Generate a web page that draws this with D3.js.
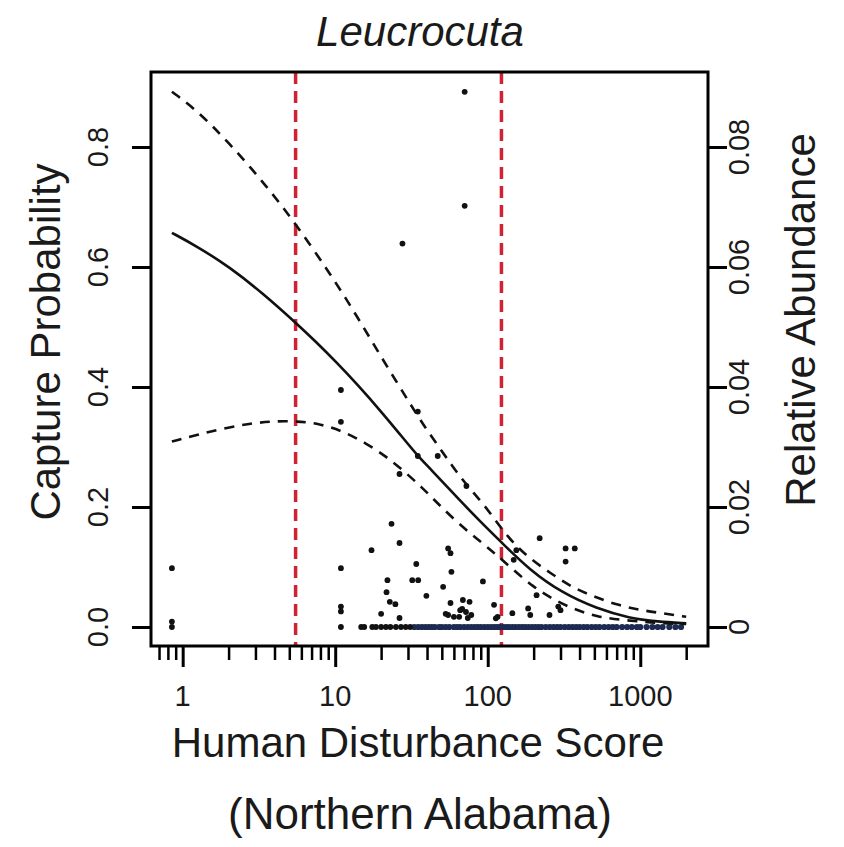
<!DOCTYPE html>
<html>
<head>
<meta charset="utf-8">
<script src="https://cdn.jsdelivr.net/npm/d3@7"></script>
<style>
  body { margin: 0; background: #fff; }
  svg { display: block; }
  text { font-family: "Liberation Sans", Arial, sans-serif; fill: #1a1a1a; }
</style>
</head>
<body>
<svg width="844" height="847"></svg>
<script>
// fitted curve (capture probability)
var fitX   = [0.85, 1.23, 2.03, 3.36, 5.57, 7.5, 10.2, 14, 20.5, 27, 34.8, 41.6, 63.6, 90, 122, 188, 311, 515, 852, 1300, 2000];
var fitY   = [0.657, 0.635, 0.600, 0.556, 0.506, 0.475, 0.441, 0.404, 0.356, 0.319, 0.285, 0.265, 0.2145, 0.175, 0.142, 0.095, 0.056, 0.031, 0.0145, 0.009, 0.006];
var upperX = [0.85, 1.23, 2.03, 3.36, 5.3, 9.2, 13, 19.5, 24.5, 30.8, 37.6, 47, 59, 72.5, 93, 116, 146, 193, 261, 352, 490, 700, 1000, 1400, 2000];
var upperY = [0.892, 0.862, 0.806, 0.742, 0.678, 0.59, 0.53, 0.455, 0.414, 0.373, 0.338, 0.303, 0.267, 0.237, 0.206, 0.173, 0.14, 0.112, 0.089, 0.067, 0.051, 0.037, 0.028, 0.023, 0.017];
var lowerX = [0.85, 1.23, 1.84, 2.75, 3.9, 5.57, 7.9, 11.3, 16, 21.6, 28.5, 37.6, 47, 62.6, 84, 111, 143, 198, 272, 380, 527, 730, 1030, 1400, 2000];
var lowerY = [0.309, 0.32, 0.331, 0.339, 0.343, 0.343, 0.339, 0.326, 0.306, 0.284, 0.259, 0.231, 0.206, 0.175, 0.148, 0.123, 0.098, 0.067, 0.045, 0.028, 0.017, 0.012, 0.009, 0.006, 0.005];

// threshold lines
var thresholds = [5.5, 123];

// observed relative abundance (right axis)
var obsX = [0.85, 0.85, 10.9, 10.9, 10.9, 10.9, 10.9, 17.3, 20, 22, 21.7, 22.8, 24.8, 23.4, 26.4, 26.4, 26.4,
            34, 32, 35, 39.6, 34.8, 34.8, 47, 51, 57.8, 55, 57, 57, 53, 55, 72.5, 93, 68.7, 76,
            68, 72, 65, 74, 60, 78, 66, 110, 113, 116, 219, 324, 372, 324, 154, 148, 209, 184, 190,
            290, 300, 145, 254, 27.6, 70.6, 70.6];
var obsY = [0.0098, 0.0009, 0.0395, 0.0342, 0.0098, 0.0034, 0.0026, 0.0128, 0.0022, 0.0078, 0.0058, 0.0042, 0.0038, 0.0172, 0.0140, 0.0255, 0.0015,
            0.0105, 0.0078, 0.0078, 0.0052, 0.0285, 0.0359, 0.0285, 0.0067, 0.0092, 0.0131, 0.0123, 0.0040, 0.0022, 0.0020, 0.0235, 0.0076, 0.0045, 0.0042,
            0.0030, 0.0025, 0.0017, 0.0015, 0.0017, 0.0020, 0.0028, 0.0037, 0.00145, 0.0017, 0.0148, 0.0131, 0.0131, 0.0109, 0.0128, 0.0112, 0.0053, 0.0031, 0.0020,
            0.0034, 0.0028, 0.0023, 0.0020, 0.0639, 0.0892, 0.0702];

// sites with zero abundance
var zeroBlackX = [0.85, 10.9, 14.8, 15.5, 17.5, 18.5, 20, 21.5, 23, 25, 27, 29, 31];
var zeroNavyX = [33, 35, 37, 39, 41, 43, 45, 48, 50, 53, 56, 60, 63, 66, 70, 74, 78, 82, 86, 90, 95, 100, 105,
                 110, 115, 120, 126, 132, 138, 145, 152, 160, 168, 176, 185, 195, 205, 215, 225, 240, 255,
                 270, 285, 300, 320, 340, 360, 380, 400, 425, 450, 480, 510, 540, 580, 620, 660, 700, 760,
                 820, 880, 950, 1000, 1100, 1200, 1300, 1400, 1550, 1700, 1850];

// axis ticks
var xMajor = [1, 10, 100, 1000];
var xMinor = [0.7, 0.8, 0.9, 2, 3, 4, 5, 6, 7, 8, 9, 20, 30, 40, 50, 60, 70, 80, 90,
              200, 300, 400, 500, 600, 700, 800, 900, 2000];
var yLeftTicks = [0, 0.2, 0.4, 0.6, 0.8];
var yRightTicks = [0, 0.02, 0.04, 0.06, 0.08];
var yRightLabels = ["0", "0.02", "0.04", "0.06", "0.08"];

var svg = d3.select("svg");
var plot = { left: 151, right: 708, top: 72, bottom: 646 };

var x = d3.scaleLog().domain([0.62, 2780]).range([plot.left, plot.right]);
var y = d3.scaleLinear().domain([-0.0317, 0.925]).range([plot.bottom, plot.top]);
var yR = d3.scaleLinear().domain([-0.00317, 0.0925]).range([plot.bottom, plot.top]);

svg.append("rect").attr("width", 844).attr("height", 847).attr("fill", "#fff");

// threshold lines
svg.append("g").selectAll("line")
  .data(thresholds)
  .enter()
  .append("line")
  .attr("x1", d => x(d)).attr("x2", d => x(d))
  .attr("y1", plot.top).attr("y2", plot.bottom)
  .attr("stroke", "#cf2233")
  .attr("stroke-width", 3.5)
  .attr("stroke-dasharray", "12,7");

// points
svg.append("g").selectAll("circle")
  .data(d3.zip(obsX, obsY))
  .enter()
  .append("circle")
  .attr("cx", d => x(d[0])).attr("cy", d => yR(d[1]))
  .attr("r", 2.9).attr("fill", "#111");

svg.append("g").selectAll("circle")
  .data(zeroNavyX)
  .enter()
  .append("circle")
  .attr("cx", d => x(d)).attr("cy", yR(0))
  .attr("r", 3.1).attr("fill", "#1d2b52");

svg.append("g").selectAll("circle")
  .data(zeroBlackX)
  .enter()
  .append("circle")
  .attr("cx", d => x(d)).attr("cy", yR(0))
  .attr("r", 2.9).attr("fill", "#111");

// curves
var line = d3.line()
  .x(d => x(d[0]))
  .y(d => y(d[1]))
  .curve(d3.curveBasis);

svg.append("path").datum(d3.zip(fitX, fitY))
  .attr("d", line).attr("fill", "none")
  .attr("stroke", "#111").attr("stroke-width", 2.6);
[d3.zip(upperX, upperY), d3.zip(lowerX, lowerY)].forEach(function (band) {
  svg.append("path").datum(band)
    .attr("d", line).attr("fill", "none")
    .attr("stroke", "#111").attr("stroke-width", 2.6)
    .attr("stroke-dasharray", "10,8");
});

// box
svg.append("rect")
  .attr("x", plot.left).attr("y", plot.top)
  .attr("width", plot.right - plot.left).attr("height", plot.bottom - plot.top)
  .attr("fill", "none").attr("stroke", "#000").attr("stroke-width", 3);

// x axis
svg.append("g")
  .attr("transform", "translate(0," + plot.bottom + ")")
  .call(d3.axisBottom(x).tickValues(xMajor).tickSize(21).tickFormat(""))
  .call(g => g.select(".domain").remove())
  .call(g => g.selectAll("line").attr("stroke", "#000").attr("stroke-width", 3));
svg.append("g")
  .attr("transform", "translate(0," + plot.bottom + ")")
  .call(d3.axisBottom(x).tickValues(xMinor).tickSize(14).tickFormat(""))
  .call(g => g.select(".domain").remove())
  .call(g => g.selectAll("line").attr("stroke", "#000").attr("stroke-width", 2.5));
svg.append("g").selectAll("text")
  .data(xMajor)
  .enter()
  .append("text")
  .attr("x", d => x(d)).attr("y", 706)
  .attr("text-anchor", "middle")
  .style("font-size", "29px")
  .text(d => d);

// left axis
svg.append("g")
  .attr("transform", "translate(" + plot.left + ",0)")
  .call(d3.axisLeft(y).tickValues(yLeftTicks).tickSize(19).tickFormat(""))
  .call(g => g.select(".domain").remove())
  .call(g => g.selectAll("line").attr("stroke", "#000").attr("stroke-width", 3));
svg.append("g").selectAll("text")
  .data(yLeftTicks)
  .enter()
  .append("text")
  .attr("transform", d => "translate(108," + y(d) + ") rotate(-90)")
  .attr("text-anchor", "middle")
  .style("font-size", "29px")
  .text(d => d3.format(".1f")(d));

// right axis
svg.append("g")
  .attr("transform", "translate(" + plot.right + ",0)")
  .call(d3.axisRight(yR).tickValues(yRightTicks).tickSize(19).tickFormat(""))
  .call(g => g.select(".domain").remove())
  .call(g => g.selectAll("line").attr("stroke", "#000").attr("stroke-width", 3));
svg.append("g").selectAll("text")
  .data(yRightTicks)
  .enter()
  .append("text")
  .attr("transform", (d, i) => "translate(749," + yR(d) + ") rotate(-90)")
  .attr("text-anchor", "middle")
  .style("font-size", "29px")
  .text((d, i) => yRightLabels[i]);

// titles
svg.append("text")
  .attr("x", 420).attr("y", 46)
  .attr("text-anchor", "middle")
  .style("font-size", "42px").style("font-style", "italic")
  .text("Leucrocuta");
svg.append("text")
  .attr("x", 418).attr("y", 757)
  .attr("text-anchor", "middle")
  .style("font-size", "42px")
  .text("Human Disturbance Score");
svg.append("text")
  .attr("x", 420).attr("y", 829)
  .attr("text-anchor", "middle")
  .style("font-size", "44px")
  .text("(Northern Alabama)");
svg.append("text")
  .attr("transform", "translate(60,342) rotate(-90)")
  .attr("text-anchor", "middle")
  .style("font-size", "42px")
  .text("Capture Probability");
svg.append("text")
  .attr("transform", "translate(815,320) rotate(-90)")
  .attr("text-anchor", "middle")
  .style("font-size", "42px")
  .text("Relative Abundance");
</script>
</body>
</html>
